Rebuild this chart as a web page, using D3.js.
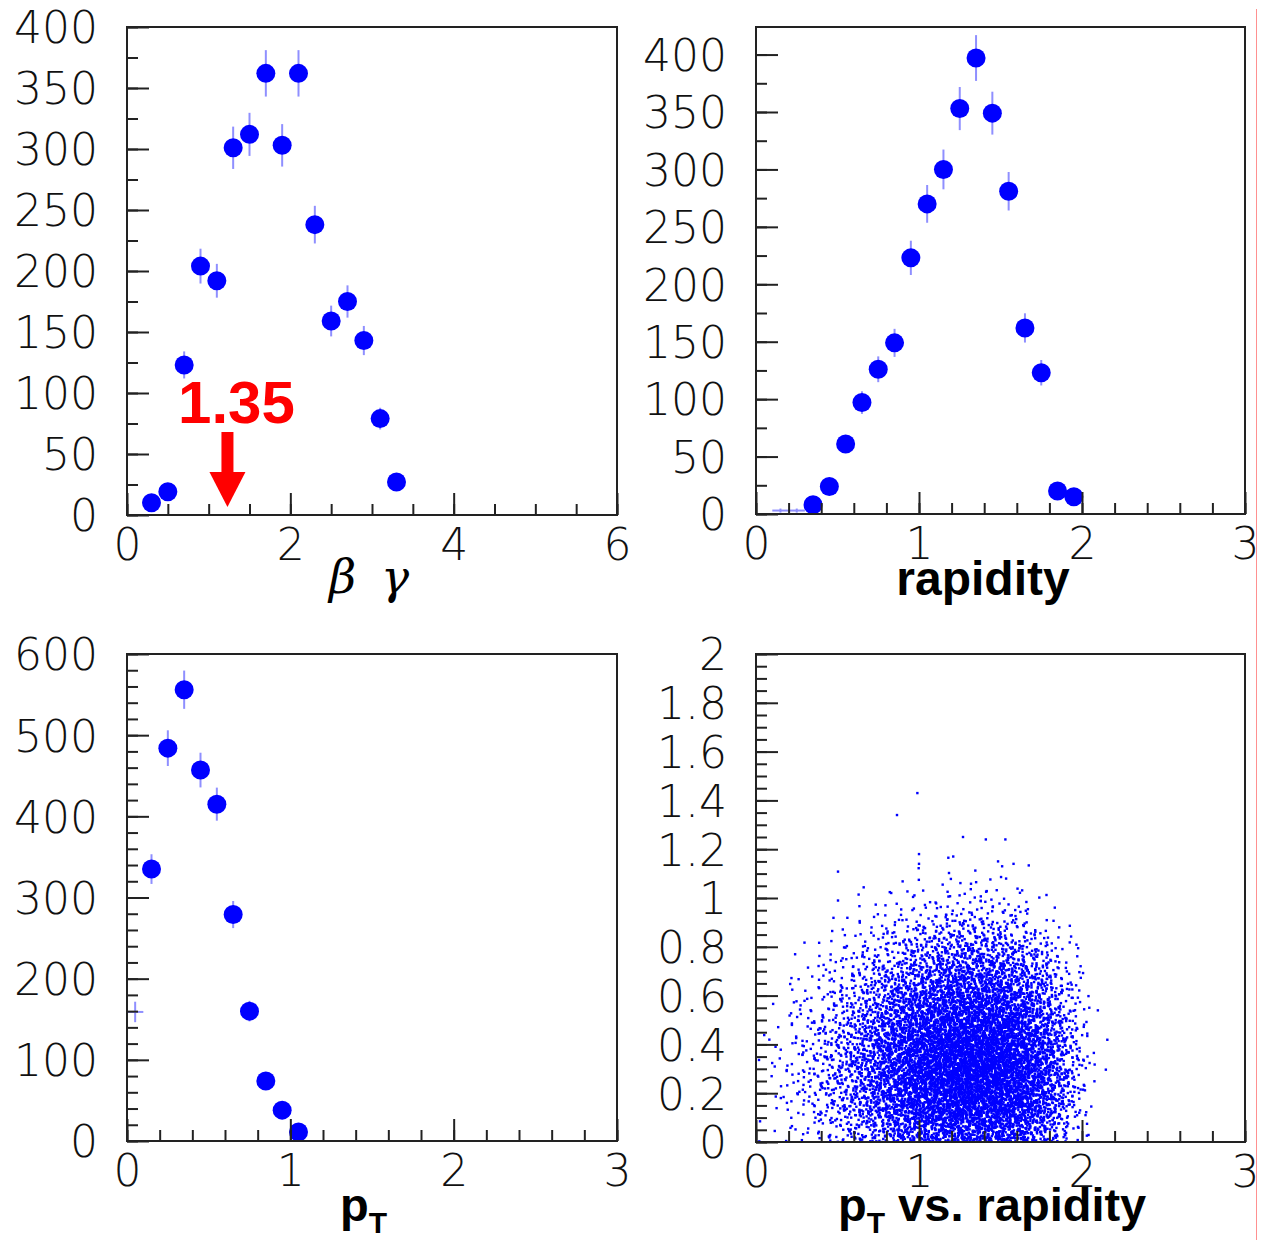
<!DOCTYPE html>
<html>
<head>
<meta charset="utf-8">
<script src="https://cdn.jsdelivr.net/npm/d3@7"></script>
<style>
  body { margin: 0; background: #fff; }
  .tick-label { font-family: "DejaVu Sans"; font-weight: 200; font-size: 44px; fill: #111; }
  .title { font-family: "Liberation Sans", Arial, sans-serif; font-weight: bold; fill: #000; }
</style>
</head>
<body>
<script>
// beta*gamma histogram (bin width 0.2)
var bgCenters = [0.3, 0.5, 0.7, 0.9, 1.1, 1.3, 1.5, 1.7, 1.9, 2.1, 2.3, 2.5, 2.7, 2.9, 3.1, 3.3];
var bgCounts  = [10, 19, 123, 204, 192, 301, 312, 362, 303, 362, 238, 159, 175, 143, 79, 27];

// rapidity histogram (bin width 0.1)
var rapCenters = [0.35, 0.45, 0.55, 0.65, 0.75, 0.85, 0.95, 1.05, 1.15, 1.25, 1.35, 1.45, 1.55, 1.65, 1.75, 1.85, 1.95];
var rapCounts  = [8, 24, 61, 97, 126, 149, 223, 270, 300, 353, 397, 349, 281, 162, 123, 20, 15];
var rapSmallCenters = [0.15, 0.25];
var rapSmallCounts  = [3, 3];

// pT histogram (bin width 0.1)
var ptCenters = [0.15, 0.25, 0.35, 0.45, 0.55, 0.65, 0.75, 0.85, 0.95, 1.05];
var ptCounts  = [335, 484, 556, 457, 415, 279, 160, 74, 38, 11];
var ptSmallCenters = [0.05];
var ptSmallCounts  = [159];

// pT vs rapidity: counts per cell, rapidity bins 0.0-2.2 (step 0.1), pT rows 0.0-1.1 (step 0.1)
var scatRapEdges = d3.range(0, 2.21, 0.1);
var scatCounts = [
  [1,2,4,7,11,18,27,40,57,73,86,97,103,105,103,95,78,54,30,9,1,0],
  [1,4,7,12,20,32,49,70,97,124,148,167,178,182,178,165,138,97,54,19,3,0],
  [1,4,8,14,23,36,55,81,113,146,175,197,211,216,211,194,162,116,65,23,4,0],
  [1,4,8,14,23,36,55,81,113,146,175,197,211,216,211,194,162,116,65,23,4,1],
  [1,3,7,11,19,30,46,68,95,122,146,165,176,181,176,162,135,95,51,18,3,0],
  [0,3,5,8,14,22,34,50,70,92,111,127,135,139,135,124,103,70,38,12,3,0],
  [0,1,3,5,8,14,22,32,46,61,74,86,93,96,93,85,69,47,24,8,1,0],
  [0,0,1,3,5,8,12,18,26,34,43,51,57,58,57,50,39,26,12,4,0,0],
  [0,0,1,1,3,4,5,8,12,16,22,26,30,31,30,24,18,11,5,1,0,0],
  [0,0,0,0,1,1,2,3,4,5,7,9,10,10,10,8,6,3,1,0,0,0],
  [0,0,0,0,1,0,1,1,2,2,3,3,4,4,4,3,2,1,0,0,0,0]
];
// sparse points above pT 1.1
var scatOutRap = [0.99, 0.865, 1.27, 1.41, 1.53, 1.0, 1.0, 1.18, 1.21, 1.485, 1.58, 1.51];
var scatOutPt  = [1.43, 1.34, 1.25, 1.24, 1.24, 1.18, 1.14, 1.165, 1.17, 1.15, 1.14, 1.13];

var arrowAt = 1.23, arrowLabel = "1.35";

var W = 1261, H = 1240;
var svg = d3.select("body").append("svg").attr("width", W).attr("height", H);

var blue = "#0000ff", errBlue = "#8f8fff";

function panel(p) {
  var x = d3.scaleLinear().domain(p.xd).range([p.left, p.right]);
  var y = d3.scaleLinear().domain(p.yd).range([p.bottom, p.top]);
  var g = svg.append("g");
  var fmt = p.fmt || function(d) { return String(+d.toFixed(2)); };

  var clip = "clip" + p.id;
  svg.append("clipPath").attr("id", clip).append("rect")
    .attr("x", p.left).attr("y", p.top).attr("width", p.right - p.left).attr("height", p.bottom - p.top);

  var plot = g.append("g").attr("clip-path", "url(#" + clip + ")");

  // minor ticks
  g.append("g").attr("transform", "translate(" + p.left + ",0)")
    .call(d3.axisLeft(y).tickValues(p.yMinor).tickSize(-11).tickFormat(""))
    .call(function(s) { s.select(".domain").remove(); s.selectAll("line").attr("stroke", "#222").attr("stroke-width", 2); });
  g.append("g").attr("transform", "translate(0," + p.bottom + ")")
    .call(d3.axisBottom(x).tickValues(p.xMinor).tickSize(-11).tickFormat(""))
    .call(function(s) { s.select(".domain").remove(); s.selectAll("line").attr("stroke", "#222").attr("stroke-width", 2); });

  // major ticks + labels
  g.append("g").attr("transform", "translate(" + p.left + ",0)")
    .call(d3.axisLeft(y).tickValues(p.yMajor).tickSize(-22).tickPadding(29).tickFormat(fmt))
    .call(function(s) {
      s.select(".domain").remove();
      s.selectAll("line").attr("stroke", "#222").attr("stroke-width", 2);
      s.selectAll("text").attr("class", "tick-label").attr("dy", "0.36em").attr("font-size", null).attr("font-family", null);
    });
  g.append("g").attr("transform", "translate(0," + p.bottom + ")")
    .call(d3.axisBottom(x).tickValues(p.xMajor).tickSize(-22).tickPadding(13).tickFormat(fmt))
    .call(function(s) {
      s.select(".domain").remove();
      s.selectAll("line").attr("stroke", "#222").attr("stroke-width", 2);
      s.selectAll("text").attr("class", "tick-label").attr("dy", "0.72em").attr("font-size", null).attr("font-family", null);
    });

  return {x: x, y: y, g: g, plot: plot, p: p};
}

function frame(P) {
  var p = P.p;
  P.g.append("rect").attr("x", p.left).attr("y", p.top)
    .attr("width", p.right - p.left).attr("height", p.bottom - p.top)
    .attr("fill", "none").attr("stroke", "#222").attr("stroke-width", 2);
}

function histo(P, centers, counts, halfw, markers) {
  var x = P.x, y = P.y;
  centers.forEach(function(c, i) {
    var v = counts[i], e = Math.sqrt(v);
    P.plot.append("line").attr("x1", x(c)).attr("x2", x(c)).attr("y1", y(v - e)).attr("y2", y(v + e))
      .attr("stroke", errBlue).attr("stroke-width", 2);
    P.plot.append("line").attr("x1", x(c - halfw)).attr("x2", x(c + halfw)).attr("y1", y(v)).attr("y2", y(v))
      .attr("stroke", errBlue).attr("stroke-width", 2);
  });
  if (markers) {
    P.plot.selectAll(null).data(centers).enter().append("circle")
      .attr("cx", function(d) { return x(d); })
      .attr("cy", function(d, i) { return y(counts[i]); })
      .attr("r", 9.5).attr("fill", blue);
  }
}

function step(a, b, s) { return d3.range(Math.round(a / s), Math.round(b / s) + 1).map(function(k) { return +(k * s).toFixed(3); }); }

// panel 1: beta gamma
var P1 = panel({id: 1, left: 127, right: 617, top: 27, bottom: 515, xd: [0, 6], yd: [0, 400],
  xMajor: [0, 2, 4, 6], xMinor: step(0, 6, 0.5), yMajor: step(0, 400, 50), yMinor: step(0, 400, 25)});
P1.plot.append("line").attr("x1", P1.x(0)).attr("x2", P1.x(0.2)).attr("y1", P1.y(0)).attr("y2", P1.y(0))
  .attr("stroke", "#3030c0").attr("stroke-width", 2);
histo(P1, bgCenters, bgCounts, 0.1, true);
frame(P1);

// arrow annotation
var ax = P1.x(arrowAt);
svg.append("text").attr("x", ax + 9).attr("y", 423).attr("text-anchor", "middle")
  .attr("class", "title").attr("font-size", 60).style("fill", "#ff0000").text(arrowLabel);
svg.append("rect").attr("x", ax - 6).attr("y", 432).attr("width", 12).attr("height", 43).attr("fill", "#ff0000");
svg.append("path").attr("d", "M" + (ax - 18) + ",472L" + (ax + 18) + ",472L" + ax + ",507Z").attr("fill", "#ff0000");

svg.append("text").attr("x", 329).attr("y", 593)
  .attr("font-family", "DejaVu Serif, serif").attr("font-style", "italic")
  .attr("font-size", 47).text("\u03b2");
svg.append("text").attr("x", 381).attr("y", 593)
  .attr("font-family", "DejaVu Serif, serif").attr("font-style", "italic")
  .attr("font-size", 47).text("\u03b3");

// panel 2: rapidity
var P2 = panel({id: 2, left: 756, right: 1245, top: 27, bottom: 514, xd: [0, 3], yd: [0, 424],
  xMajor: [0, 1, 2, 3], xMinor: step(0, 3, 0.2), yMajor: step(0, 400, 50), yMinor: step(0, 400, 25)});
P2.plot.append("line").attr("x1", P2.x(0)).attr("x2", P2.x(0.1)).attr("y1", P2.y(0)).attr("y2", P2.y(0))
  .attr("stroke", "#3030c0").attr("stroke-width", 2);
P2.plot.append("line").attr("x1", P2.x(2.1)).attr("x2", P2.x(2.2)).attr("y1", P2.y(0)).attr("y2", P2.y(0))
  .attr("stroke", "#3030c0").attr("stroke-width", 2);
histo(P2, rapSmallCenters, rapSmallCounts, 0.05, false);
histo(P2, rapCenters, rapCounts, 0.05, true);
frame(P2);
svg.append("text").attr("class", "title").attr("x", 983).attr("y", 595).attr("text-anchor", "middle")
  .attr("font-size", 48).text("rapidity");

// panel 3: pT
var P3 = panel({id: 3, left: 127, right: 617, top: 654, bottom: 1141, xd: [0, 3], yd: [0, 600],
  xMajor: [0, 1, 2, 3], xMinor: step(0, 3, 0.2), yMajor: step(0, 600, 100), yMinor: step(0, 600, 20)});
P3.plot.append("line").attr("x1", P3.x(1.4)).attr("x2", P3.x(3)).attr("y1", P3.y(0)).attr("y2", P3.y(0))
  .attr("stroke", "#3030c0").attr("stroke-width", 2);
histo(P3, ptSmallCenters, ptSmallCounts, 0.05, false);
histo(P3, ptCenters, ptCounts, 0.05, true);
frame(P3);
var t3 = svg.append("text").attr("class", "title").attr("x", 340).attr("y", 1221).attr("font-size", 47);
t3.append("tspan").text("p");
t3.append("tspan").attr("font-size", 30).attr("dy", 12).text("T");

// panel 4: pT vs rapidity
var P4 = panel({id: 4, left: 756, right: 1245, top: 654, bottom: 1142, xd: [0, 3], yd: [0, 2],
  xMajor: [0, 1, 2, 3], xMinor: step(0, 3, 0.2), yMajor: step(0, 2, 0.2), yMinor: step(0, 2, 0.05)});
// spread each cell's entries over its cell (plus half a cell around) with Halton points
function halton(i, b) { var f = 1, r = 0; while (i > 0) { f /= b; r += f * (i % b); i = Math.floor(i / b); } return r; }
var pts = [], n = 0;
scatCounts.forEach(function(row, j) {
  row.forEach(function(c, i) {
    for (var k = 0; k < c; k++) {
      n++;
      var u = halton(n, 2) + halton(n, 5) - 0.5;
      var v = halton(n, 3) + halton(n, 7) - 0.5;
      var pt = j * 0.1 + v * 0.1;
      if (pt < 0) pt = -pt;
      pts.push([scatRapEdges[i] + u * 0.1, pt]);
    }
  });
});
scatOutRap.forEach(function(r, i) { pts.push([r, scatOutPt[i]]); });
P4.plot.selectAll(null).data(pts).enter().append("rect")
  .attr("x", function(d) { return P4.x(d[0]) - 1.2; })
  .attr("y", function(d) { return P4.y(d[1]) - 1.2; })
  .attr("width", 2.4).attr("height", 2.4).attr("fill", blue);
frame(P4);
var t4 = svg.append("text").attr("class", "title").attr("x", 838).attr("y", 1221).attr("font-size", 47);
t4.append("tspan").text("p");
t4.append("tspan").attr("font-size", 30).attr("dy", 12).text("T");
t4.append("tspan").attr("dy", -12).text(" vs. rapidity");

// thin red line on the right edge
svg.append("line").attr("x1", 1256.5).attr("x2", 1256.5).attr("y1", 9).attr("y2", H)
  .attr("stroke", "#ff9090").attr("stroke-width", 1);
</script>
</body>
</html>
